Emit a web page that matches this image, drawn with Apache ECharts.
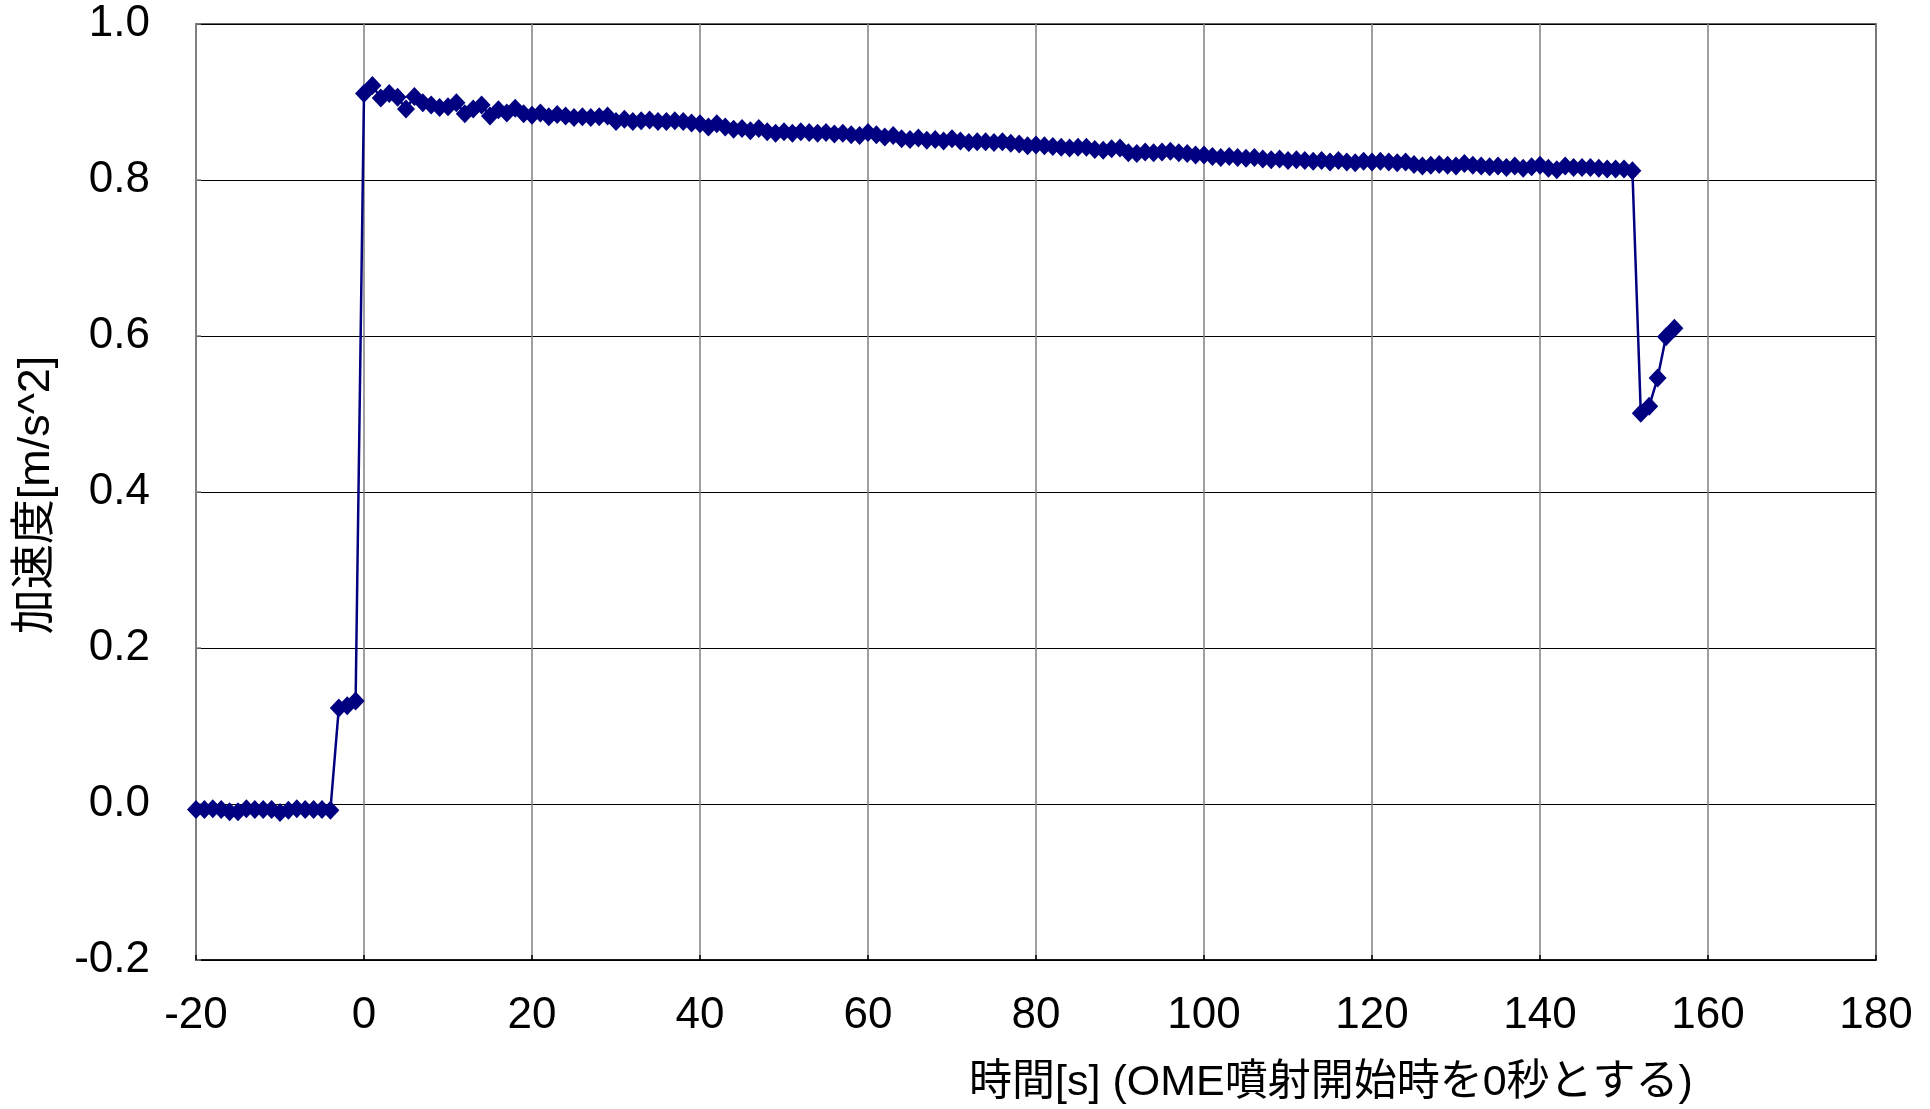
<!DOCTYPE html>
<html>
<head>
<meta charset="utf-8">
<script src="https://cdn.jsdelivr.net/npm/echarts@6/dist/echarts.min.js"></script>
<style>
html,body{margin:0;padding:0;background:#fff;}
#c{width:1930px;height:1109px;}
</style>
</head>
<body>
<div id="c"></div>
<script>
// time [s] from OME ignition
var startTime = -20;
var preBurn = [-0.007,-0.007,-0.006,-0.007,-0.010,-0.010,-0.006,-0.007,-0.007,-0.007,-0.011,-0.008,-0.006,-0.007,-0.007,-0.007,-0.008];
var lowThrust = [0.123,0.126,0.132];
var burn = [
0.911,0.921,0.905,0.911,0.906,0.891,0.907,0.899,0.896,0.893,
0.894,0.899,0.885,0.891,0.896,0.882,0.890,0.886,0.892,0.885,
0.883,0.886,0.881,0.884,0.882,0.880,0.881,0.880,0.881,0.882,
0.875,0.878,0.875,0.876,0.877,0.875,0.875,0.876,0.875,0.873,
0.872,0.868,0.872,0.868,0.865,0.866,0.863,0.866,0.862,0.860,
0.862,0.860,0.862,0.861,0.860,0.861,0.859,0.860,0.858,0.857,
0.861,0.858,0.855,0.857,0.853,0.852,0.854,0.851,0.852,0.850,
0.853,0.850,0.848,0.849,0.849,0.848,0.849,0.847,0.846,0.844,
0.845,0.844,0.843,0.842,0.841,0.842,0.842,0.839,0.838,0.840,
0.841,0.835,0.834,0.836,0.835,0.836,0.837,0.835,0.834,0.832,
0.832,0.830,0.829,0.830,0.829,0.828,0.829,0.827,0.826,0.827,
0.825,0.826,0.825,0.824,0.825,0.823,0.825,0.823,0.822,0.824,
0.823,0.824,0.823,0.822,0.823,0.820,0.818,0.819,0.820,0.819,
0.818,0.821,0.819,0.818,0.817,0.818,0.816,0.818,0.815,0.817,
0.819,0.815,0.813,0.818,0.816,0.816,0.816,0.815,0.814,0.814,
0.814,0.812
];
var tail = [0.501,0.510,0.546,0.599,0.610];
var xTicks = [-20,0,20,40,60,80,100,120,140,160,180];
var yTicks = [-0.2,0.0,0.2,0.4,0.6,0.8,1.0];
var xTitle = '時間[s] (OME噴射開始時を0秒とする)';
var yTitle = '加速度[m/s^2]';

var values = preBurn.concat(lowThrust, burn, tail);
var data = values.map(function(v, i){ return [startTime + i, v]; });

var latin = "'Liberation Sans',Arial,sans-serif";
var mixed = "'Liberation Sans','Noto Sans CJK JP',sans-serif";

var chart = echarts.init(document.getElementById('c'), null, {renderer:'canvas'});
chart.setOption({
  animation: false,
  backgroundColor: '#ffffff',
  grid: {left:196, top:24, right:54, bottom:149, show:true, borderColor:'#333333', borderWidth:1.5, backgroundColor:'transparent'},
  xAxis: {
    type:'value', min:xTicks[0], max:xTicks[xTicks.length-1], interval:20,
    axisLine:{show:true, onZero:false, lineStyle:{color:'#000', width:1.5}},
    axisTick:{show:true, inside:true, length:5, lineStyle:{color:'#000', width:1.5}},
    splitLine:{show:true, lineStyle:{color:'#808080', width:1.5}},
    axisLabel:{color:'#000', fontSize:44, fontFamily:latin, margin:34,
      formatter:function(v){ return String(v); }}
  },
  yAxis: {
    type:'value', min:yTicks[0], max:yTicks[yTicks.length-1], interval:0.2,
    axisLine:{show:true, onZero:false, lineStyle:{color:'#808080', width:2}},
    axisTick:{show:true, inside:true, length:5, lineStyle:{color:'#808080', width:1.5}},
    splitLine:{show:true, lineStyle:{color:'#000', width:1.2}},
    axisLabel:{color:'#000', fontSize:44, fontFamily:latin, margin:46,
      formatter:function(v){ return v.toFixed(1); }}
  },
  graphic: [
    {type:'text', x:1331, y:1083, style:{text:xTitle, fill:'#000', font:'43px ' + mixed, textAlign:'center', textVerticalAlign:'middle'}},
    {type:'text', x:37, y:495, rotation:Math.PI/2, style:{text:yTitle, fill:'#000', font:'45px ' + mixed, textAlign:'center', textVerticalAlign:'middle'}}
  ],
  series: [{
    type:'line', data:data, symbol:'diamond', symbolSize:[18,19],
    lineStyle:{color:'#000080', width:2.5},
    itemStyle:{color:'#000080'},
    z:5
  }]
});
</script>
</body>
</html>
